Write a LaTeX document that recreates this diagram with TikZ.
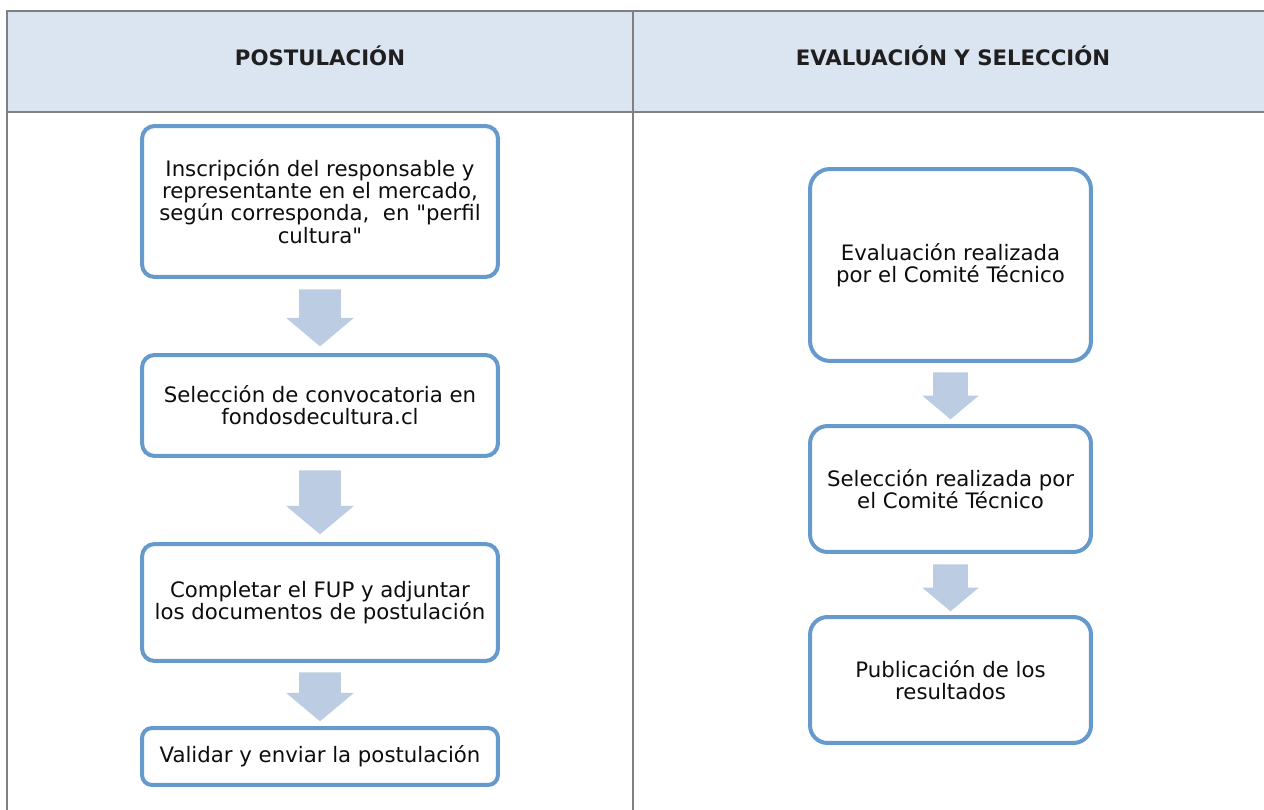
\documentclass[tikz,border=0pt]{standalone}
\usepackage{fontspec}
\setmainfont{DejaVu Sans}
\usepackage{xcolor}
\usetikzlibrary{shapes.arrows,calc}

\definecolor{boxblue}{HTML}{6699CC}
\definecolor{arrowblue}{HTML}{BCCCE3}
\definecolor{headfill}{HTML}{DBE5F1}
\definecolor{gridgray}{HTML}{808080}

\begin{document}
\begin{tikzpicture}[x=0.02cm, y=-0.02cm,
  stepbox/.style={draw=boxblue, line width=0.08cm, fill=white, rounded corners=0.25cm,
    align=center, inner sep=0pt, text=black!95, font=\fontsize{12.1}{12.6}\selectfont},
  downarrow/.style={single arrow, fill=arrowblue, rotate=-90, anchor=tail, inner xsep=0pt, inner ysep=0.41cm,
    single arrow tip angle=100, single arrow head extend=0.26cm},
  headtext/.style={anchor=base, text=black!88, font=\fontsize{12.1}{12.6}\selectfont\bfseries}]
\useasboundingbox (0,0) rectangle (1264,810);

% Table header and grid
\fill[headfill] (7,11) rectangle (1264,112);
\draw[gridgray, line width=0.045cm] (1264,11) -- (7,11) -- (7,810);
\draw[gridgray, line width=0.045cm] (7,112) -- (1264,112);
\draw[gridgray, line width=0.045cm] (633,11) -- (633,810);
\node[headtext] (postulacion) at (320,66) {POSTULACIÓN};
\node[headtext] (evaluacion) at (953,66) {EVALUACIÓN Y SELECCIÓN};

% Left column: postulacion steps
\node[stepbox, minimum width=7.12cm, minimum height=3.02cm] (inscripcion) at (320,201.5)
  {Inscripción del responsable y\\representante en el mercado,\\según corresponda,\ \ en \textquotedbl perfil\\cultura\textquotedbl};
\node[stepbox, minimum width=7.12cm, minimum height=2.02cm] (convocatoria) at (320,405.5)
  {Selección de convocatoria en\\fondosdecultura.cl};
\node[stepbox, minimum width=7.12cm, minimum height=2.34cm] (completar) at (320,602.5)
  {Completar el FUP y adjuntar\\los documentos de postulación};
\node[stepbox, minimum width=7.12cm, minimum height=1.14cm, rounded corners=0.2cm] (validar) at (320,756.5)
  {Validar y enviar la postulación};

\node[downarrow, minimum height=1.14cm] (flechaA) at ($(inscripcion.south)+(0,10)$) {};
\node[downarrow, minimum height=1.28cm] (flechaB) at ($(convocatoria.south)+(0,12)$) {};
\node[downarrow, minimum height=0.98cm] (flechaC) at ($(completar.south)+(0,9)$) {};

% Right column: evaluacion y seleccion
\node[stepbox, minimum width=5.62cm, minimum height=3.84cm, rounded corners=0.4cm] (comite) at (950.5,265)
  {Evaluación realizada\\por el Comité Técnico};
\node[stepbox, minimum width=5.62cm, minimum height=2.52cm, rounded corners=0.35cm] (seleccion) at (950.5,489)
  {Selección realizada por\\el Comité Técnico};
\node[stepbox, minimum width=5.62cm, minimum height=2.52cm, rounded corners=0.35cm] (publicacion) at (950.5,680)
  {Publicación de los\\resultados};

\node[downarrow, minimum height=0.94cm, inner ysep=0.34cm, single arrow head extend=0.22cm] (flechaD)
  at ($(comite.south)+(0,9)$) {};
\node[downarrow, minimum height=0.94cm, inner ysep=0.34cm, single arrow head extend=0.22cm] (flechaE)
  at ($(seleccion.south)+(0,10)$) {};
\end{tikzpicture}
\end{document}
